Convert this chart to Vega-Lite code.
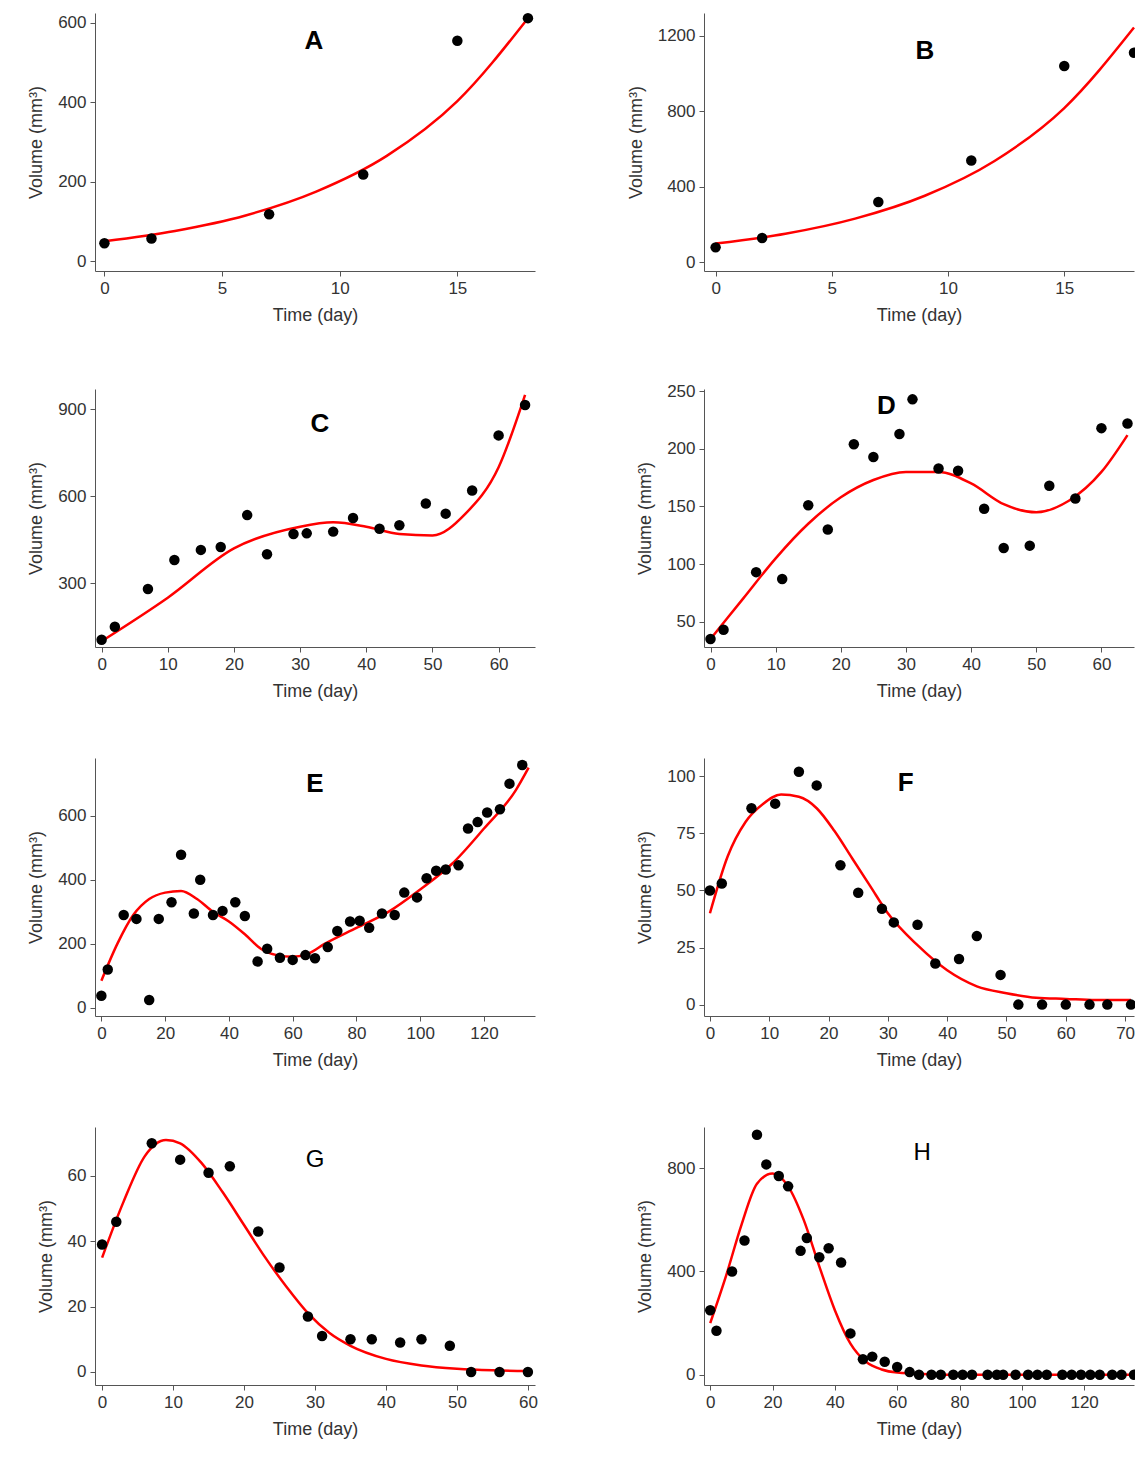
{
  "$schema": "https://vega.github.io/schema/vega-lite/v6.json",
  "background": "white",
  "padding": {"top": 12, "left": 27, "right": 0, "bottom": 5},
  "columns": 2,
  "spacing": {"column": 89, "row": 58},
  "datasets": {
    "pts": [
      {"p":"A","t":0,"v":45},{"p":"A","t":2,"v":57},{"p":"A","t":7,"v":118},{"p":"A","t":11,"v":218},{"p":"A","t":15,"v":555},{"p":"A","t":18,"v":612},
      {"p":"B","t":0,"v":80},{"p":"B","t":2,"v":130},{"p":"B","t":7,"v":320},{"p":"B","t":11,"v":540},{"p":"B","t":15,"v":1040},{"p":"B","t":18,"v":1110},
      {"p":"C","t":0,"v":105},{"p":"C","t":2,"v":150},{"p":"C","t":7,"v":280},{"p":"C","t":11,"v":380},{"p":"C","t":15,"v":415},{"p":"C","t":18,"v":425},{"p":"C","t":22,"v":535},{"p":"C","t":25,"v":400},{"p":"C","t":29,"v":470},{"p":"C","t":31,"v":472},{"p":"C","t":35,"v":478},{"p":"C","t":38,"v":525},{"p":"C","t":42,"v":488},{"p":"C","t":45,"v":500},{"p":"C","t":49,"v":575},{"p":"C","t":52,"v":540},{"p":"C","t":56,"v":620},{"p":"C","t":60,"v":810},{"p":"C","t":64,"v":915},
      {"p":"D","t":0,"v":35},{"p":"D","t":2,"v":43},{"p":"D","t":7,"v":93},{"p":"D","t":11,"v":87},{"p":"D","t":15,"v":151},{"p":"D","t":18,"v":130},{"p":"D","t":22,"v":204},{"p":"D","t":25,"v":193},{"p":"D","t":29,"v":213},{"p":"D","t":31,"v":243},{"p":"D","t":35,"v":183},{"p":"D","t":38,"v":181},{"p":"D","t":42,"v":148},{"p":"D","t":45,"v":114},{"p":"D","t":49,"v":116},{"p":"D","t":52,"v":168},{"p":"D","t":56,"v":157},{"p":"D","t":60,"v":218},{"p":"D","t":64,"v":222},
      {"p":"E","t":0,"v":38},{"p":"E","t":2,"v":120},{"p":"E","t":7,"v":290},{"p":"E","t":11,"v":278},{"p":"E","t":15,"v":25},{"p":"E","t":18,"v":278},{"p":"E","t":22,"v":330},{"p":"E","t":25,"v":478},{"p":"E","t":29,"v":295},{"p":"E","t":31,"v":400},{"p":"E","t":35,"v":290},{"p":"E","t":38,"v":303},{"p":"E","t":42,"v":330},{"p":"E","t":45,"v":287},{"p":"E","t":49,"v":145},{"p":"E","t":52,"v":185},{"p":"E","t":56,"v":157},{"p":"E","t":60,"v":150},{"p":"E","t":64,"v":165},{"p":"E","t":67,"v":155},{"p":"E","t":71,"v":190},{"p":"E","t":74,"v":240},{"p":"E","t":78,"v":270},{"p":"E","t":81,"v":272},{"p":"E","t":84,"v":250},{"p":"E","t":88,"v":295},{"p":"E","t":92,"v":290},{"p":"E","t":95,"v":360},{"p":"E","t":99,"v":345},{"p":"E","t":102,"v":405},{"p":"E","t":105,"v":428},{"p":"E","t":108,"v":432},{"p":"E","t":112,"v":445},{"p":"E","t":115,"v":560},{"p":"E","t":118,"v":580},{"p":"E","t":121,"v":610},{"p":"E","t":125,"v":620},{"p":"E","t":128,"v":700},{"p":"E","t":132,"v":758},
      {"p":"F","t":0,"v":50},{"p":"F","t":2,"v":53},{"p":"F","t":7,"v":86},{"p":"F","t":11,"v":88},{"p":"F","t":15,"v":102},{"p":"F","t":18,"v":96},{"p":"F","t":22,"v":61},{"p":"F","t":25,"v":49},{"p":"F","t":29,"v":42},{"p":"F","t":31,"v":36},{"p":"F","t":35,"v":35},{"p":"F","t":38,"v":18},{"p":"F","t":42,"v":20},{"p":"F","t":45,"v":30},{"p":"F","t":49,"v":13},{"p":"F","t":52,"v":0},{"p":"F","t":56,"v":0},{"p":"F","t":60,"v":0},{"p":"F","t":64,"v":0},{"p":"F","t":67,"v":0},{"p":"F","t":71,"v":0},
      {"p":"G","t":0,"v":39},{"p":"G","t":2,"v":46},{"p":"G","t":7,"v":70},{"p":"G","t":11,"v":65},{"p":"G","t":15,"v":61},{"p":"G","t":18,"v":63},{"p":"G","t":22,"v":43},{"p":"G","t":25,"v":32},{"p":"G","t":29,"v":17},{"p":"G","t":31,"v":11},{"p":"G","t":35,"v":10},{"p":"G","t":38,"v":10},{"p":"G","t":42,"v":9},{"p":"G","t":45,"v":10},{"p":"G","t":49,"v":8},{"p":"G","t":52,"v":0},{"p":"G","t":56,"v":0},{"p":"G","t":60,"v":0},
      {"p":"H","t":0,"v":250},{"p":"H","t":2,"v":170},{"p":"H","t":7,"v":400},{"p":"H","t":11,"v":520},{"p":"H","t":15,"v":930},{"p":"H","t":18,"v":815},{"p":"H","t":22,"v":770},{"p":"H","t":25,"v":730},{"p":"H","t":29,"v":480},{"p":"H","t":31,"v":530},{"p":"H","t":35,"v":455},{"p":"H","t":38,"v":490},{"p":"H","t":42,"v":435},{"p":"H","t":45,"v":160},{"p":"H","t":49,"v":60},{"p":"H","t":52,"v":70},{"p":"H","t":56,"v":50},{"p":"H","t":60,"v":30},{"p":"H","t":64,"v":10},{"p":"H","t":67,"v":0},{"p":"H","t":71,"v":0},{"p":"H","t":74,"v":0},{"p":"H","t":78,"v":0},{"p":"H","t":81,"v":0},{"p":"H","t":84,"v":0},{"p":"H","t":89,"v":0},{"p":"H","t":92,"v":0},{"p":"H","t":94,"v":0},{"p":"H","t":98,"v":0},{"p":"H","t":102,"v":0},{"p":"H","t":105,"v":0},{"p":"H","t":108,"v":0},{"p":"H","t":113,"v":0},{"p":"H","t":116,"v":0},{"p":"H","t":119,"v":0},{"p":"H","t":122,"v":0},{"p":"H","t":125,"v":0},{"p":"H","t":129,"v":0},{"p":"H","t":132,"v":0},{"p":"H","t":136,"v":0}
    ],
    "fit": [
      {"p":"A","t":0,"v":50},{"p":"A","t":3,"v":76},{"p":"A","t":6,"v":115},{"p":"A","t":9,"v":175},{"p":"A","t":12,"v":265},{"p":"A","t":15,"v":403},{"p":"A","t":18,"v":612},
      {"p":"B","t":0,"v":100},{"p":"B","t":3,"v":152},{"p":"B","t":6,"v":232},{"p":"B","t":9,"v":353},{"p":"B","t":12,"v":537},{"p":"B","t":15,"v":817},{"p":"B","t":18,"v":1243},
      {"p":"C","t":0,"v":100},{"p":"C","t":10,"v":250},{"p":"C","t":20,"v":420},{"p":"C","t":30,"v":495},{"p":"C","t":35,"v":510},{"p":"C","t":40,"v":495},{"p":"C","t":45,"v":470},{"p":"C","t":50,"v":465},{"p":"C","t":55,"v":540},{"p":"C","t":60,"v":700},{"p":"C","t":64,"v":950},
      {"p":"D","t":0,"v":35},{"p":"D","t":5,"v":70},{"p":"D","t":10,"v":105},{"p":"D","t":15,"v":135},{"p":"D","t":20,"v":158},{"p":"D","t":25,"v":173},{"p":"D","t":30,"v":180},{"p":"D","t":35,"v":180},{"p":"D","t":40,"v":170},{"p":"D","t":45,"v":152},{"p":"D","t":50,"v":145},{"p":"D","t":55,"v":155},{"p":"D","t":60,"v":180},{"p":"D","t":64,"v":212},
      {"p":"E","t":0,"v":85},{"p":"E","t":5,"v":200},{"p":"E","t":10,"v":290},{"p":"E","t":15,"v":340},{"p":"E","t":20,"v":360},{"p":"E","t":25,"v":365},{"p":"E","t":30,"v":340},{"p":"E","t":35,"v":300},{"p":"E","t":40,"v":270},{"p":"E","t":45,"v":230},{"p":"E","t":50,"v":185},{"p":"E","t":55,"v":165},{"p":"E","t":60,"v":160},{"p":"E","t":65,"v":170},{"p":"E","t":70,"v":200},{"p":"E","t":80,"v":250},{"p":"E","t":90,"v":300},{"p":"E","t":100,"v":370},{"p":"E","t":110,"v":450},{"p":"E","t":120,"v":560},{"p":"E","t":130,"v":680},{"p":"E","t":134,"v":750},
      {"p":"F","t":0,"v":40},{"p":"F","t":3,"v":65},{"p":"F","t":6,"v":80},{"p":"F","t":9,"v":88},{"p":"F","t":12,"v":92},{"p":"F","t":15,"v":91},{"p":"F","t":18,"v":86},{"p":"F","t":21,"v":76},{"p":"F","t":24,"v":64},{"p":"F","t":27,"v":52},{"p":"F","t":30,"v":40},{"p":"F","t":35,"v":26},{"p":"F","t":40,"v":15},{"p":"F","t":45,"v":8},{"p":"F","t":50,"v":5},{"p":"F","t":55,"v":3},{"p":"F","t":60,"v":2.5},{"p":"F","t":65,"v":2},{"p":"F","t":71,"v":2},
      {"p":"G","t":0,"v":35},{"p":"G","t":3,"v":52},{"p":"G","t":6,"v":66},{"p":"G","t":9,"v":71},{"p":"G","t":11,"v":70},{"p":"G","t":14,"v":64},{"p":"G","t":17,"v":55},{"p":"G","t":20,"v":45},{"p":"G","t":23,"v":35},{"p":"G","t":26,"v":26},{"p":"G","t":29,"v":18},{"p":"G","t":32,"v":12},{"p":"G","t":35,"v":8},{"p":"G","t":40,"v":4},{"p":"G","t":45,"v":2},{"p":"G","t":50,"v":1},{"p":"G","t":55,"v":0.5},{"p":"G","t":60,"v":0.3},
      {"p":"H","t":0,"v":200},{"p":"H","t":5,"v":380},{"p":"H","t":10,"v":580},{"p":"H","t":15,"v":740},{"p":"H","t":20,"v":780},{"p":"H","t":25,"v":730},{"p":"H","t":30,"v":600},{"p":"H","t":35,"v":420},{"p":"H","t":40,"v":250},{"p":"H","t":45,"v":120},{"p":"H","t":50,"v":50},{"p":"H","t":55,"v":20},{"p":"H","t":60,"v":8},{"p":"H","t":70,"v":2},{"p":"H","t":80,"v":0},{"p":"H","t":136,"v":0}
    ],
    "lab": [
      {"p":"A","t":8.9,"v":555},{"p":"B","t":9,"v":1120},{"p":"C","t":33,"v":850},{"p":"D","t":27,"v":237},
      {"p":"E","t":67,"v":700},{"p":"F","t":33,"v":97},{"p":"G","t":30,"v":65},{"p":"H","t":68,"v":860}
    ]
  },
  "config": {
    "font": "Liberation Sans",
    "view": {"stroke": null},
    "axis": {"grid": false, "domainColor": "#555", "tickColor": "#555", "labelFontSize": 17, "titleFontSize": 18, "titleFontWeight": "normal", "labelColor": "#333", "titleColor": "#333", "labelPadding": 4, "format": "d"},
    "axisX": {"titlePadding": 10},
    "axisY": {"titlePadding": 12},
    "text": {"fontSize": 26, "fontWeight": "bold"}
  },
  "concat": [
    {"width": 440, "height": 258, "layer": [
      {"data": {"name": "fit"}, "transform": [{"filter": "datum.p=='A'"}], "mark": {"type": "line", "color": "red", "strokeWidth": 2.5, "interpolate": "monotone"},
       "encoding": {"x": {"field": "t", "type": "quantitative", "title": "Time (day)", "scale": {"domain": [-0.4, 18.3], "nice": false}, "axis": {"values": [0,5,10,15]}}, "y": {"field": "v", "type": "quantitative", "title": "Volume (mm³)", "scale": {"domain": [-25, 625], "nice": false}, "axis": {"values": [0,200,400,600]}}}},
      {"data": {"name": "pts"}, "transform": [{"filter": "datum.p=='A'"}], "mark": {"type": "circle", "color": "black", "size": 110, "opacity": 1}, "encoding": {"x": {"field": "t", "type": "quantitative"}, "y": {"field": "v", "type": "quantitative"}}},
      {"data": {"name": "lab"}, "transform": [{"filter": "datum.p=='A'"}], "mark": {"type": "text"}, "encoding": {"x": {"field": "t", "type": "quantitative"}, "y": {"field": "v", "type": "quantitative"}, "text": {"field": "p"}}}
    ]},
    {"width": 430, "height": 258, "layer": [
      {"data": {"name": "fit"}, "transform": [{"filter": "datum.p=='B'"}], "mark": {"type": "line", "color": "red", "strokeWidth": 2.5, "interpolate": "monotone"},
       "encoding": {"x": {"field": "t", "type": "quantitative", "title": "Time (day)", "scale": {"domain": [-0.5, 18], "nice": false}, "axis": {"values": [0,5,10,15]}}, "y": {"field": "v", "type": "quantitative", "title": "Volume (mm³)", "scale": {"domain": [-45, 1320], "nice": false}, "axis": {"values": [0,400,800,1200]}}}},
      {"data": {"name": "pts"}, "transform": [{"filter": "datum.p=='B'"}], "mark": {"type": "circle", "color": "black", "size": 110, "opacity": 1, "clip": false}, "encoding": {"x": {"field": "t", "type": "quantitative"}, "y": {"field": "v", "type": "quantitative"}}},
      {"data": {"name": "lab"}, "transform": [{"filter": "datum.p=='B'"}], "mark": {"type": "text"}, "encoding": {"x": {"field": "t", "type": "quantitative"}, "y": {"field": "v", "type": "quantitative"}, "text": {"field": "p"}}}
    ]},
    {"width": 440, "height": 258, "layer": [
      {"data": {"name": "fit"}, "transform": [{"filter": "datum.p=='C'"}], "mark": {"type": "line", "color": "red", "strokeWidth": 2.5, "interpolate": "monotone"},
       "encoding": {"x": {"field": "t", "type": "quantitative", "title": "Time (day)", "scale": {"domain": [-1, 65.5], "nice": false}, "axis": {"values": [0,10,20,30,40,50,60]}}, "y": {"field": "v", "type": "quantitative", "title": "Volume (mm³)", "scale": {"domain": [80, 970], "nice": false}, "axis": {"values": [300,600,900]}}}},
      {"data": {"name": "pts"}, "transform": [{"filter": "datum.p=='C'"}], "mark": {"type": "circle", "color": "black", "size": 110, "opacity": 1}, "encoding": {"x": {"field": "t", "type": "quantitative"}, "y": {"field": "v", "type": "quantitative"}}},
      {"data": {"name": "lab"}, "transform": [{"filter": "datum.p=='C'"}], "mark": {"type": "text"}, "encoding": {"x": {"field": "t", "type": "quantitative"}, "y": {"field": "v", "type": "quantitative"}, "text": {"field": "p"}}}
    ]},
    {"width": 430, "height": 258, "layer": [
      {"data": {"name": "fit"}, "transform": [{"filter": "datum.p=='D'"}], "mark": {"type": "line", "color": "red", "strokeWidth": 2.5, "interpolate": "monotone"},
       "encoding": {"x": {"field": "t", "type": "quantitative", "title": "Time (day)", "scale": {"domain": [-1, 65], "nice": false}, "axis": {"values": [0,10,20,30,40,50,60]}}, "y": {"field": "v", "type": "quantitative", "title": "Volume (mm³)", "scale": {"domain": [28, 252], "nice": false}, "axis": {"values": [50,100,150,200,250]}}}},
      {"data": {"name": "pts"}, "transform": [{"filter": "datum.p=='D'"}], "mark": {"type": "circle", "color": "black", "size": 110, "opacity": 1, "clip": false}, "encoding": {"x": {"field": "t", "type": "quantitative"}, "y": {"field": "v", "type": "quantitative"}}},
      {"data": {"name": "lab"}, "transform": [{"filter": "datum.p=='D'"}], "mark": {"type": "text"}, "encoding": {"x": {"field": "t", "type": "quantitative"}, "y": {"field": "v", "type": "quantitative"}, "text": {"field": "p"}}}
    ]},
    {"width": 440, "height": 258, "layer": [
      {"data": {"name": "fit"}, "transform": [{"filter": "datum.p=='E'"}], "mark": {"type": "line", "color": "red", "strokeWidth": 2.5, "interpolate": "monotone"},
       "encoding": {"x": {"field": "t", "type": "quantitative", "title": "Time (day)", "scale": {"domain": [-2, 136], "nice": false}, "axis": {"values": [0,20,40,60,80,100,120]}}, "y": {"field": "v", "type": "quantitative", "title": "Volume (mm³)", "scale": {"domain": [-25, 780], "nice": false}, "axis": {"values": [0,200,400,600]}}}},
      {"data": {"name": "pts"}, "transform": [{"filter": "datum.p=='E'"}], "mark": {"type": "circle", "color": "black", "size": 110, "opacity": 1}, "encoding": {"x": {"field": "t", "type": "quantitative"}, "y": {"field": "v", "type": "quantitative"}}},
      {"data": {"name": "lab"}, "transform": [{"filter": "datum.p=='E'"}], "mark": {"type": "text"}, "encoding": {"x": {"field": "t", "type": "quantitative"}, "y": {"field": "v", "type": "quantitative"}, "text": {"field": "p"}}}
    ]},
    {"width": 430, "height": 258, "layer": [
      {"data": {"name": "fit"}, "transform": [{"filter": "datum.p=='F'"}], "mark": {"type": "line", "color": "red", "strokeWidth": 2.5, "interpolate": "monotone"},
       "encoding": {"x": {"field": "t", "type": "quantitative", "title": "Time (day)", "scale": {"domain": [-1, 71.5], "nice": false}, "axis": {"values": [0,10,20,30,40,50,60,70]}}, "y": {"field": "v", "type": "quantitative", "title": "Volume (mm³)", "scale": {"domain": [-5, 108], "nice": false}, "axis": {"values": [0,25,50,75,100]}}}},
      {"data": {"name": "pts"}, "transform": [{"filter": "datum.p=='F'"}], "mark": {"type": "circle", "color": "black", "size": 110, "opacity": 1, "clip": false}, "encoding": {"x": {"field": "t", "type": "quantitative"}, "y": {"field": "v", "type": "quantitative"}}},
      {"data": {"name": "lab"}, "transform": [{"filter": "datum.p=='F'"}], "mark": {"type": "text"}, "encoding": {"x": {"field": "t", "type": "quantitative"}, "y": {"field": "v", "type": "quantitative"}, "text": {"field": "p"}}}
    ]},
    {"width": 440, "height": 258, "layer": [
      {"data": {"name": "fit"}, "transform": [{"filter": "datum.p=='G'"}], "mark": {"type": "line", "color": "red", "strokeWidth": 2.5, "interpolate": "monotone"},
       "encoding": {"x": {"field": "t", "type": "quantitative", "title": "Time (day)", "scale": {"domain": [-1, 61], "nice": false}, "axis": {"values": [0,10,20,30,40,50,60]}}, "y": {"field": "v", "type": "quantitative", "title": "Volume (mm³)", "scale": {"domain": [-4, 75], "nice": false}, "axis": {"values": [0,20,40,60]}}}},
      {"data": {"name": "pts"}, "transform": [{"filter": "datum.p=='G'"}], "mark": {"type": "circle", "color": "black", "size": 110, "opacity": 1}, "encoding": {"x": {"field": "t", "type": "quantitative"}, "y": {"field": "v", "type": "quantitative"}}},
      {"data": {"name": "lab"}, "transform": [{"filter": "datum.p=='G'"}], "mark": {"type": "text", "fontSize": 24, "fontWeight": "normal"}, "encoding": {"x": {"field": "t", "type": "quantitative"}, "y": {"field": "v", "type": "quantitative"}, "text": {"field": "p"}}}
    ]},
    {"width": 430, "height": 258, "layer": [
      {"data": {"name": "fit"}, "transform": [{"filter": "datum.p=='H'"}], "mark": {"type": "line", "color": "red", "strokeWidth": 2.5, "interpolate": "monotone"},
       "encoding": {"x": {"field": "t", "type": "quantitative", "title": "Time (day)", "scale": {"domain": [-2, 136], "nice": false}, "axis": {"values": [0,20,40,60,80,100,120]}}, "y": {"field": "v", "type": "quantitative", "title": "Volume (mm³)", "scale": {"domain": [-40, 960], "nice": false}, "axis": {"values": [0,400,800]}}}},
      {"data": {"name": "pts"}, "transform": [{"filter": "datum.p=='H'"}], "mark": {"type": "circle", "color": "black", "size": 110, "opacity": 1, "clip": false}, "encoding": {"x": {"field": "t", "type": "quantitative"}, "y": {"field": "v", "type": "quantitative"}}},
      {"data": {"name": "lab"}, "transform": [{"filter": "datum.p=='H'"}], "mark": {"type": "text", "fontSize": 24, "fontWeight": "normal"}, "encoding": {"x": {"field": "t", "type": "quantitative"}, "y": {"field": "v", "type": "quantitative"}, "text": {"field": "p"}}}
    ]}
  ]
}
